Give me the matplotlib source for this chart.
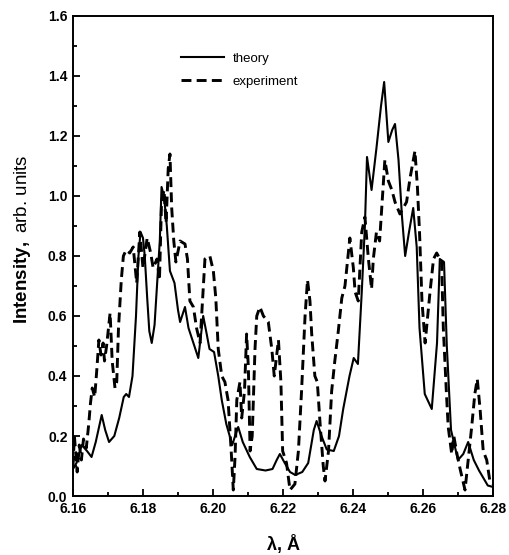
import numpy as np
import matplotlib
matplotlib.use("Agg")
import matplotlib.pyplot as plt
from matplotlib.ticker import MultipleLocator

plt.rcParams["font.family"] = ["Liberation Sans", "DejaVu Sans"]
plt.rcParams["mathtext.fontset"] = "custom"
plt.rcParams["mathtext.rm"] = "Liberation Sans"
plt.rcParams["mathtext.bf"] = "Liberation Sans:bold"

# calculated spectrum (wavelength in A, intensity)
theory_wl = [6.1600, 6.1610, 6.1625, 6.1640, 6.1653, 6.1665, 6.1682, 6.1692, 6.1703, 6.1718,
             6.1732, 6.1745, 6.1752, 6.1760, 6.1770, 6.1780, 6.1787, 6.1793, 6.1800, 6.1805,
             6.1812, 6.1818, 6.1825, 6.1833, 6.1841, 6.1848, 6.1853, 6.1860, 6.1868, 6.1877,
             6.1890, 6.1900, 6.1906, 6.1920, 6.1930, 6.1944, 6.1958, 6.1972, 6.1982, 6.1990,
             6.2003, 6.2015, 6.2025, 6.2038, 6.2055, 6.2063, 6.2072, 6.2085, 6.2105, 6.2125,
             6.2150, 6.2170, 6.2182, 6.2191, 6.2205, 6.2220, 6.2235, 6.2255, 6.2272, 6.2288,
             6.2296, 6.2310, 6.2325, 6.2345, 6.2360, 6.2372, 6.2390, 6.2402, 6.2414, 6.2425,
             6.2434, 6.2440, 6.2453, 6.2467, 6.2480, 6.2489, 6.2501, 6.2512, 6.2520, 6.2530,
             6.2540, 6.2549, 6.2560, 6.2572, 6.2582, 6.2590, 6.2605, 6.2625, 6.2640, 6.2648,
             6.2660, 6.2668, 6.2680, 6.2700, 6.2715, 6.2729, 6.2745, 6.2760, 6.2785, 6.2800]
theory_int = [0.09, 0.11, 0.17, 0.15, 0.13, 0.18, 0.27, 0.22, 0.18, 0.20,
              0.26, 0.33, 0.34, 0.33, 0.40, 0.60, 0.80, 0.88, 0.86, 0.80,
              0.66, 0.55, 0.51, 0.57, 0.72, 0.85, 1.03, 1.00, 0.90, 0.75,
              0.71, 0.62, 0.58, 0.63, 0.56, 0.51, 0.46, 0.60, 0.54, 0.49,
              0.48, 0.40, 0.32, 0.24, 0.17, 0.20, 0.23, 0.18, 0.13, 0.09,
              0.085, 0.09, 0.12, 0.14, 0.11, 0.08, 0.07, 0.08, 0.11, 0.22,
              0.25, 0.20, 0.155, 0.15, 0.20, 0.29, 0.40, 0.46, 0.44, 0.68,
              0.90, 1.13, 1.02, 1.16, 1.30, 1.38, 1.18, 1.22, 1.24, 1.12,
              0.93, 0.80, 0.88, 0.96, 0.83, 0.56, 0.34, 0.29, 0.51, 0.79,
              0.78, 0.50, 0.22, 0.12, 0.14, 0.18, 0.12, 0.085, 0.035, 0.03]

# measured spectrum
exp_wl = [6.1600, 6.1604, 6.1608, 6.1612, 6.1618, 6.1624, 6.1630, 6.1638, 6.1645, 6.1650,
          6.1655, 6.1662, 6.1668, 6.1674, 6.1680, 6.1686, 6.1690, 6.1696, 6.1706, 6.1712,
          6.1720, 6.1725, 6.1730, 6.1738, 6.1744, 6.1752, 6.1762, 6.1772, 6.1782, 6.1791,
          6.1800, 6.1812, 6.1822, 6.1829, 6.1840, 6.1847, 6.1853, 6.1860, 6.1866, 6.1872,
          6.1877, 6.1882, 6.1888, 6.1894, 6.1906, 6.1920, 6.1927, 6.1934, 6.1944, 6.1953,
          6.1963, 6.1970, 6.1977, 6.1991, 6.2001, 6.2008, 6.2015, 6.2025, 6.2034, 6.2043,
          6.2052, 6.2058, 6.2063, 6.2068, 6.2077, 6.2082, 6.2090, 6.2096, 6.2101, 6.2106,
          6.2112, 6.2120, 6.2125, 6.2134, 6.2144, 6.2158, 6.2168, 6.2175, 6.2187, 6.2194,
          6.2199, 6.2210, 6.2220, 6.2234, 6.2244, 6.2253, 6.2263, 6.2270, 6.2277, 6.2282,
          6.2291, 6.2298, 6.2306, 6.2315, 6.2320, 6.2330, 6.2339, 6.2348, 6.2358, 6.2368,
          6.2377, 6.2391, 6.2401, 6.2406, 6.2415, 6.2425, 6.2434, 6.2444, 6.2453, 6.2458,
          6.2467, 6.2476, 6.2482, 6.2491, 6.2501, 6.2511, 6.2520, 6.2534, 6.2553, 6.2563,
          6.2577, 6.2584, 6.2590, 6.2597, 6.2606, 6.2620, 6.2630, 6.2639, 6.2653, 6.2658,
          6.2667, 6.2672, 6.2682, 6.2688, 6.2697, 6.2706, 6.2720, 6.2729, 6.2739, 6.2748,
          6.2755, 6.2763, 6.2772, 6.2782, 6.2791, 6.2800]
exp_int = [0.10, 0.20, 0.14, 0.08, 0.17, 0.12, 0.19, 0.16, 0.24, 0.31,
           0.36, 0.33, 0.42, 0.52, 0.47, 0.51, 0.45, 0.50, 0.61, 0.45,
           0.36, 0.38, 0.56, 0.72, 0.80, 0.82, 0.81, 0.83, 0.71, 0.88,
           0.76, 0.86, 0.81, 0.76, 0.79, 0.72, 0.98, 1.02, 0.91, 1.09,
           1.14, 0.96, 0.85, 0.78, 0.85, 0.84, 0.79, 0.65, 0.63, 0.56,
           0.51, 0.65, 0.79, 0.80, 0.75, 0.66, 0.49, 0.40, 0.38, 0.32,
           0.15, 0.02, 0.13, 0.32, 0.38, 0.26, 0.35, 0.54, 0.43, 0.15,
           0.20, 0.49, 0.60, 0.63, 0.60, 0.58, 0.49, 0.40, 0.52, 0.38,
           0.15, 0.11, 0.02, 0.04, 0.15, 0.35, 0.60, 0.72, 0.65, 0.54,
           0.40, 0.38, 0.24, 0.10, 0.05, 0.15, 0.35, 0.45, 0.55, 0.66,
           0.70, 0.86, 0.76, 0.68, 0.65, 0.88, 0.93, 0.79, 0.69, 0.79,
           0.88, 0.85, 0.96, 1.12, 1.05, 1.02, 0.98, 0.94, 0.98, 1.06,
           1.15, 1.03, 0.88, 0.65, 0.51, 0.68, 0.79, 0.81, 0.78, 0.56,
           0.34, 0.23, 0.14, 0.20, 0.14, 0.09, 0.02, 0.12, 0.23, 0.34,
           0.39, 0.29, 0.15, 0.12, 0.05, 0.04]

x_ticks = [6.16, 6.18, 6.20, 6.22, 6.24, 6.26, 6.28]
y_ticks = [0.0, 0.2, 0.4, 0.6, 0.8, 1.0, 1.2, 1.4, 1.6]

fig = plt.figure(figsize=(5.09, 5.55), dpi=100)
ax = fig.add_axes([0.1434, 0.1063, 0.8252, 0.8649])

ax.plot(theory_wl, theory_int, color="black", lw=1.5, solid_joinstyle="round",
        label="theory")
ax.plot(exp_wl, exp_int, color="black", lw=2.1, linestyle=(0, (3.4, 1.8)),
        label="experiment")

ax.set_xlim(6.16, 6.28)
ax.set_ylim(0, 1.6)
ax.set_xticks(x_ticks)
ax.set_xticklabels([f"{v:.2f}" for v in x_ticks])
ax.set_yticks(y_ticks)
ax.set_yticklabels([f"{v:.1f}" for v in y_ticks])
ax.xaxis.set_minor_locator(MultipleLocator(0.01))
ax.yaxis.set_minor_locator(MultipleLocator(0.1))
ax.tick_params(which="both", direction="in", width=1.3, labelsize=10, pad=4)
ax.tick_params(which="major", length=5)
ax.tick_params(which="minor", length=3)
for lab in ax.get_xticklabels() + ax.get_yticklabels():
    lab.set_fontweight("bold")
for sp in ax.spines.values():
    sp.set_linewidth(1.4)

ax.set_xlabel("λ, Å", fontsize=13, fontweight="bold")
ax.xaxis.set_label_coords(0.502, -0.081)
ax.set_ylabel(r"$\mathbf{Intensity,}$ arb. units", fontsize=13.5)
ax.yaxis.set_label_coords(-0.095, 0.535)

ax.legend(loc="upper left", bbox_to_anchor=(0.228, 0.948), frameon=False,
          fontsize=9.5, handlelength=3.25, handletextpad=0.7, labelspacing=0.82)

fig.savefig("out.png", dpi=100)
